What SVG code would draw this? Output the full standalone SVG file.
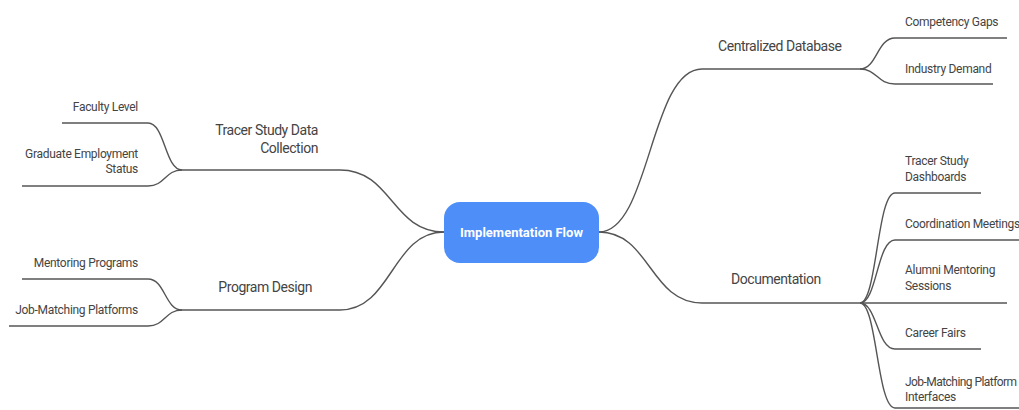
<svg xmlns="http://www.w3.org/2000/svg" width="1019" height="410" viewBox="0 0 1019 410">
<style>
.bg{fill:#ffffff}
.c{fill:none;stroke:#555;stroke-width:1.4}
.t{font-family:Roboto,"Liberation Sans",sans-serif;fill:#444}
.l1{font-size:14px;letter-spacing:-0.45px}
.l2{font-size:12px;letter-spacing:-0.3px}
.tight{letter-spacing:-0.55px}
.r{text-anchor:end}
.root{fill:#4d8ef8}
.rt{font-family:Roboto,"Liberation Sans",sans-serif;font-weight:bold;font-size:13px;fill:#fff;text-anchor:middle}
</style>
<rect class="bg" x="0" y="0" width="1019" height="410"/>
<g id="connectors">
<path class="c" d="M444,232 C392,232 392,170 340,170 L182,170"/>
<path class="c" d="M444,232 C392,232 392,310 340,310 L182,310"/>
<path class="c" d="M182,170 C165,170 165,123 148,123 L62,123"/>
<path class="c" d="M182,170 C165,170 165,186 148,186 L22,186"/>
<path class="c" d="M182,310 C165,310 165,279 148,279 L22,279"/>
<path class="c" d="M182,310 C165,310 165,326 148,326 L9,326"/>
<path class="c" d="M599,232 C650,232 650,69 702,69 L860,69"/>
<path class="c" d="M599,232 C650,232 650,303 702,303 L860,303"/>
<path class="c" d="M860,69 C877,69 877,38 895,38 L1007,38"/>
<path class="c" d="M860,69 C877,69 877,84 895,84 L993,84"/>
<path class="c" d="M860,303 C877,303 877,193 895,193 L981,193"/>
<path class="c" d="M860,303 C877,303 877,240 895,240 L1019,240"/>
<path class="c" d="M860,303 L1007,303"/>
<path class="c" d="M860,303 C877,303 877,349 895,349 L981,349"/>
<path class="c" d="M860,303 C877,303 877,408 895,408 L1019,408"/>
</g>
<g id="root">
<rect class="root" x="444" y="202" width="155" height="61" rx="16"/>
<text class="rt" x="521.5" y="237">Implementation Flow</text>
</g>
<g id="tracer-study">
<text class="t l1 r" x="318" y="135">Tracer Study Data</text>
<text class="t l1 r" x="318" y="153">Collection</text>
</g>
<g id="faculty-level"><text class="t l2 r" x="138" y="111">Faculty Level</text></g>
<g id="graduate-employment">
<text class="t l2 r" x="138" y="158">Graduate Employment</text>
<text class="t l2 r" x="138" y="173">Status</text>
</g>
<g id="program-design"><text class="t l1 r" x="312" y="292">Program Design</text></g>
<g id="mentoring-programs"><text class="t l2 r" x="138" y="267">Mentoring Programs</text></g>
<g id="job-matching-platforms"><text class="t l2 r" x="138" y="314">Job-Matching Platforms</text></g>
<g id="centralized-database"><text class="t l1" x="718" y="51">Centralized Database</text></g>
<g id="competency-gaps"><text class="t l2" x="905" y="26">Competency Gaps</text></g>
<g id="industry-demand"><text class="t l2" x="905" y="73">Industry Demand</text></g>
<g id="documentation"><text class="t l1" x="731" y="284">Documentation</text></g>
<g id="tracer-dashboards">
<text class="t l2" x="905" y="165">Tracer Study</text>
<text class="t l2" x="905" y="181">Dashboards</text>
</g>
<g id="coordination-meetings"><text class="t l2" x="905" y="228">Coordination Meetings</text></g>
<g id="alumni-mentoring">
<text class="t l2" x="905" y="274">Alumni Mentoring</text>
<text class="t l2" x="905" y="290">Sessions</text>
</g>
<g id="career-fairs"><text class="t l2" x="905" y="337">Career Fairs</text></g>
<g id="job-matching-interfaces">
<text class="t l2 tight" x="905" y="386">Job-Matching Platform</text>
<text class="t l2" x="905" y="401">Interfaces</text>
</g>
</svg>
